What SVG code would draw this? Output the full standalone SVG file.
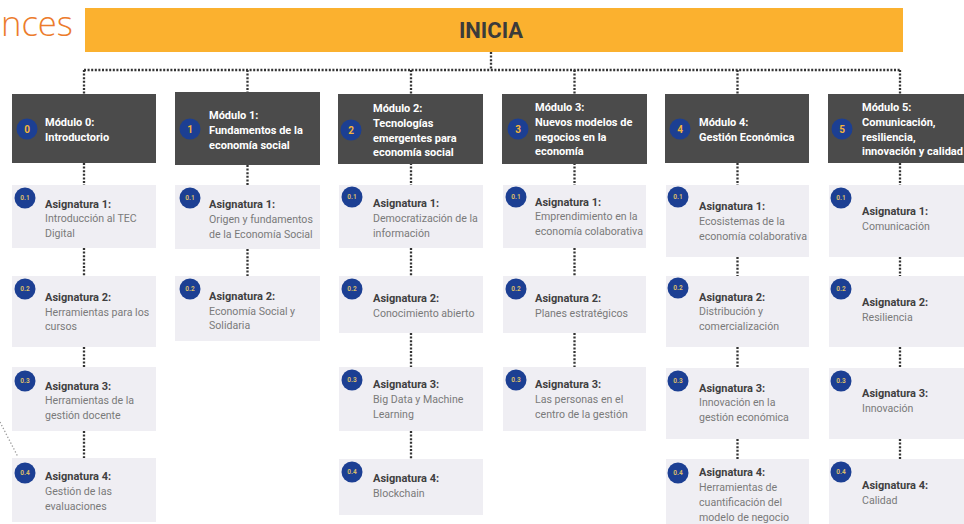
<svg xmlns="http://www.w3.org/2000/svg" width="964" height="524" viewBox="0 0 964 524">
<style>
.bg{fill:#ffffff}
.bar{fill:#fbb12f}
.title{font-family:Roboto,"Liberation Sans",sans-serif;font-weight:700;font-size:22px;fill:#3b3b3b;text-anchor:middle}
.corner{font-family:"Open Sans","Liberation Sans",sans-serif;font-weight:300;font-size:34px;fill:#ec7c2c}
.mod{fill:#4b4b4b}
.mt{font-family:Roboto,"Liberation Sans",sans-serif;font-weight:700;font-size:11px;fill:#ffffff}
.mb{fill:#1c3f93}
.mn{font-family:Roboto,"Liberation Sans",sans-serif;font-weight:700;font-size:10px;fill:#f4b43a;text-anchor:middle}
.card{fill:#efeef3}
.cb{fill:#1c3f93}
.cn{font-family:Roboto,"Liberation Sans",sans-serif;font-weight:700;font-size:6.5px;fill:#d9bd6a;text-anchor:middle}
.ch{font-family:Roboto,"Liberation Sans",sans-serif;font-weight:700;font-size:11px;fill:#3f3f3f}
.cl{font-family:Roboto,"Liberation Sans",sans-serif;font-weight:400;font-size:10.6px;fill:#7a7a7a}
.dot{stroke:#333333;stroke-width:2.3;stroke-dasharray:2 1.6;fill:none}
.dotg{stroke:#9a9a9a;stroke-width:1.3;stroke-dasharray:1.3 2;fill:none}
</style>
<rect class="bg" x="0" y="0" width="964" height="524"/>
<text class="corner" x="1" y="36" textLength="72" lengthAdjust="spacingAndGlyphs">nces</text>
<g id="inicia">
<rect class="bar" x="85" y="8" width="818" height="44"/>
<text class="title" x="491" y="38">INICIA</text>
</g>
<g id="connectors">
<line class="dot" x1="491" y1="52" x2="491" y2="70"/>
<line class="dot" x1="84" y1="70" x2="900" y2="70"/>
<line class="dot" x1="84" y1="70" x2="84" y2="94"/>
<line class="dot" x1="247.5" y1="70" x2="247.5" y2="92"/>
<line class="dot" x1="411" y1="70" x2="411" y2="94"/>
<line class="dot" x1="574.5" y1="70" x2="574.5" y2="94"/>
<line class="dot" x1="737.5" y1="70" x2="737.5" y2="94"/>
<line class="dot" x1="900" y1="70" x2="900" y2="94"/>
<line class="dot" x1="84" y1="163" x2="84" y2="185"/>
<line class="dot" x1="84" y1="248" x2="84" y2="276"/>
<line class="dot" x1="84" y1="347" x2="84" y2="367"/>
<line class="dot" x1="84" y1="431" x2="84" y2="458"/>
<line class="dot" x1="247.5" y1="165" x2="247.5" y2="185"/>
<line class="dot" x1="247.5" y1="249" x2="247.5" y2="276"/>
<line class="dot" x1="411" y1="163" x2="411" y2="185"/>
<line class="dot" x1="411" y1="248" x2="411" y2="276"/>
<line class="dot" x1="411" y1="333" x2="411" y2="367"/>
<line class="dot" x1="411" y1="431" x2="411" y2="459"/>
<line class="dot" x1="574.5" y1="163" x2="574.5" y2="185"/>
<line class="dot" x1="574.5" y1="248" x2="574.5" y2="276"/>
<line class="dot" x1="574.5" y1="333" x2="574.5" y2="367"/>
<line class="dot" x1="737.5" y1="163" x2="737.5" y2="185"/>
<line class="dot" x1="737.5" y1="257" x2="737.5" y2="276"/>
<line class="dot" x1="737.5" y1="347" x2="737.5" y2="368"/>
<line class="dot" x1="737.5" y1="439" x2="737.5" y2="459"/>
<line class="dot" x1="900" y1="163" x2="900" y2="185"/>
<line class="dot" x1="900" y1="257" x2="900" y2="276"/>
<line class="dot" x1="900" y1="347" x2="900" y2="368"/>
<line class="dot" x1="900" y1="439" x2="900" y2="459"/>
<line class="dotg" x1="0" y1="422" x2="18" y2="457"/>
</g>
<g id="m0">
<rect class="mod" x="12" y="94" width="144" height="69"/>
<circle class="mb" cx="27" cy="129" r="10.5"/><text class="mn" x="27" y="132.5">0</text>
<text class="mt" x="45" y="126">Módulo 0:</text>
<text class="mt" x="45" y="141">Introductorio</text>
</g>
<g id="m1">
<rect class="mod" x="175" y="92" width="145" height="73"/>
<circle class="mb" cx="190" cy="129" r="10.5"/><text class="mn" x="190" y="132.5">1</text>
<text class="mt" x="209" y="119">Módulo 1:</text>
<text class="mt" x="209" y="134">Fundamentos de la</text>
<text class="mt" x="209" y="149">economía social</text>
</g>
<g id="m2">
<rect class="mod" x="338" y="94" width="145" height="70"/>
<circle class="mb" cx="351" cy="130" r="10.5"/><text class="mn" x="351" y="133.5">2</text>
<text class="mt" x="373" y="112">Módulo 2:</text>
<text class="mt" x="373" y="127">Tecnologías</text>
<text class="mt" x="373" y="142">emergentes para</text>
<text class="mt" x="373" y="156">economía social</text>
</g>
<g id="m3">
<rect class="mod" x="502" y="94" width="145" height="70"/>
<circle class="mb" cx="518" cy="129" r="10.5"/><text class="mn" x="518" y="132.5">3</text>
<text class="mt" x="535" y="111">Módulo 3:</text>
<text class="mt" x="535" y="126">Nuevos modelos de</text>
<text class="mt" x="535" y="141">negocios en la</text>
<text class="mt" x="535" y="155">economía</text>
</g>
<g id="m4">
<rect class="mod" x="665" y="94" width="144" height="69"/>
<circle class="mb" cx="680" cy="129" r="10.5"/><text class="mn" x="680" y="132.5">4</text>
<text class="mt" x="699" y="126">Módulo 4:</text>
<text class="mt" x="699" y="141">Gestión Económica</text>
</g>
<g id="m5">
<rect class="mod" x="828" y="94" width="140" height="69"/>
<circle class="mb" cx="842" cy="129" r="10.5"/><text class="mn" x="842" y="132.5">5</text>
<text class="mt" x="862" y="111">Módulo 5:</text>
<text class="mt" x="862" y="126">Comunicación,</text>
<text class="mt" x="862" y="141">resiliencia,</text>
<text class="mt" x="862" y="155" textLength="101" lengthAdjust="spacingAndGlyphs">innovación y calidad</text>
</g>
<g id="m0-a1">
<rect class="card" x="12" y="185" width="144" height="63"/>
<circle class="cb" cx="25" cy="198" r="10.5"/><text class="cn" x="25" y="200.3">0.1</text>
<text class="ch" x="45" y="207.5">Asignatura 1:</text>
<text class="cl" x="45" y="221.5">Introducción al TEC</text>
<text class="cl" x="45" y="236.5">Digital</text>
</g>
<g id="m0-a2">
<rect class="card" x="12" y="276" width="144" height="71"/>
<circle class="cb" cx="25" cy="289" r="10.5"/><text class="cn" x="25" y="291.3">0.2</text>
<text class="ch" x="45" y="300.5">Asignatura 2:</text>
<text class="cl" x="45" y="315.5">Herramientas para los</text>
<text class="cl" x="45" y="329.5">cursos</text>
</g>
<g id="m0-a3">
<rect class="card" x="12" y="367" width="144" height="64"/>
<circle class="cb" cx="25" cy="381" r="10.5"/><text class="cn" x="25" y="383.3">0.3</text>
<text class="ch" x="45" y="389.5">Asignatura 3:</text>
<text class="cl" x="45" y="403.5">Herramientas de la</text>
<text class="cl" x="45" y="418.5">gestión docente</text>
</g>
<g id="m0-a4">
<rect class="card" x="12" y="458" width="144" height="64"/>
<circle class="cb" cx="25" cy="473" r="10.5"/><text class="cn" x="25" y="475.3">0.4</text>
<text class="ch" x="45" y="479.5">Asignatura 4:</text>
<text class="cl" x="45" y="494.5">Gestión de las</text>
<text class="cl" x="45" y="509.5">evaluaciones</text>
</g>
<g id="m1-a1">
<rect class="card" x="175" y="185" width="145" height="64"/>
<circle class="cb" cx="190" cy="198" r="10.5"/><text class="cn" x="190" y="200.3">0.1</text>
<text class="ch" x="209" y="207.5">Asignatura 1:</text>
<text class="cl" x="209" y="222.5">Origen y fundamentos</text>
<text class="cl" x="209" y="237.5">de la Economía Social</text>
</g>
<g id="m1-a2">
<rect class="card" x="175" y="276" width="145" height="65"/>
<circle class="cb" cx="190" cy="289" r="10.5"/><text class="cn" x="190" y="291.3">0.2</text>
<text class="ch" x="209" y="299.5">Asignatura 2:</text>
<text class="cl" x="209" y="314.5">Economía Social y</text>
<text class="cl" x="209" y="328.5">Solidaria</text>
</g>
<g id="m2-a1">
<rect class="card" x="339" y="185" width="144" height="63"/>
<circle class="cb" cx="352" cy="197" r="10.5"/><text class="cn" x="352" y="199.3">0.1</text>
<text class="ch" x="373" y="206.5">Asignatura 1:</text>
<text class="cl" x="373" y="221.5">Democratización de la</text>
<text class="cl" x="373" y="236.5">información</text>
</g>
<g id="m2-a2">
<rect class="card" x="339" y="276" width="144" height="57"/>
<circle class="cb" cx="352" cy="289" r="10.5"/><text class="cn" x="352" y="291.3">0.2</text>
<text class="ch" x="373" y="301.5">Asignatura 2:</text>
<text class="cl" x="373" y="316.5">Conocimiento abierto</text>
</g>
<g id="m2-a3">
<rect class="card" x="339" y="367" width="144" height="64"/>
<circle class="cb" cx="352" cy="380" r="10.5"/><text class="cn" x="352" y="382.3">0.3</text>
<text class="ch" x="373" y="387.5">Asignatura 3:</text>
<text class="cl" x="373" y="402.5">Big Data y Machine</text>
<text class="cl" x="373" y="417.5">Learning</text>
</g>
<g id="m2-a4">
<rect class="card" x="339" y="459" width="144" height="56"/>
<circle class="cb" cx="352" cy="472" r="10.5"/><text class="cn" x="352" y="474.3">0.4</text>
<text class="ch" x="373" y="481.5">Asignatura 4:</text>
<text class="cl" x="373" y="496.5">Blockchain</text>
</g>
<g id="m3-a1">
<rect class="card" x="503" y="185" width="143" height="63"/>
<circle class="cb" cx="516" cy="197" r="10.5"/><text class="cn" x="516" y="199.3">0.1</text>
<text class="ch" x="535" y="205.5">Asignatura 1:</text>
<text class="cl" x="535" y="219.5">Emprendimiento en la</text>
<text class="cl" x="535" y="234.5" textLength="108" lengthAdjust="spacingAndGlyphs">economía colaborativa</text>
</g>
<g id="m3-a2">
<rect class="card" x="503" y="276" width="143" height="57"/>
<circle class="cb" cx="516" cy="289" r="10.5"/><text class="cn" x="516" y="291.3">0.2</text>
<text class="ch" x="535" y="301.5">Asignatura 2:</text>
<text class="cl" x="535" y="316.5">Planes estratégicos</text>
</g>
<g id="m3-a3">
<rect class="card" x="503" y="367" width="143" height="64"/>
<circle class="cb" cx="516" cy="380" r="10.5"/><text class="cn" x="516" y="382.3">0.3</text>
<text class="ch" x="535" y="387.5">Asignatura 3:</text>
<text class="cl" x="535" y="402.5">Las personas en el</text>
<text class="cl" x="535" y="417.5">centro de la gestión</text>
</g>
<g id="m4-a1">
<rect class="card" x="666" y="185" width="143" height="72"/>
<circle class="cb" cx="678" cy="197" r="10.5"/><text class="cn" x="678" y="199.3">0.1</text>
<text class="ch" x="699" y="209.5">Asignatura 1:</text>
<text class="cl" x="699" y="224.5">Ecosistemas de la</text>
<text class="cl" x="699" y="239.5" textLength="108" lengthAdjust="spacingAndGlyphs">economía colaborativa</text>
</g>
<g id="m4-a2">
<rect class="card" x="666" y="276" width="143" height="71"/>
<circle class="cb" cx="678" cy="288" r="10.5"/><text class="cn" x="678" y="290.3">0.2</text>
<text class="ch" x="699" y="300.5">Asignatura 2:</text>
<text class="cl" x="699" y="314.5">Distribución y</text>
<text class="cl" x="699" y="329.5">comercialización</text>
</g>
<g id="m4-a3">
<rect class="card" x="666" y="368" width="143" height="71"/>
<circle class="cb" cx="678" cy="381" r="10.5"/><text class="cn" x="678" y="383.3">0.3</text>
<text class="ch" x="699" y="391.5">Asignatura 3:</text>
<text class="cl" x="699" y="405.5">Innovación en la</text>
<text class="cl" x="699" y="420.5">gestión económica</text>
</g>
<g id="m4-a4">
<rect class="card" x="666" y="459" width="143" height="65"/>
<circle class="cb" cx="678" cy="473" r="10.5"/><text class="cn" x="678" y="475.3">0.4</text>
<text class="ch" x="699" y="475.5">Asignatura 4:</text>
<text class="cl" x="699" y="490.5">Herramientas de</text>
<text class="cl" x="699" y="505.5">cuantificación del</text>
<text class="cl" x="699" y="520.5">modelo de negocio</text>
</g>
<g id="m5-a1">
<rect class="card" x="829" y="185" width="140" height="72"/>
<circle class="cb" cx="841" cy="198" r="10.5"/><text class="cn" x="841" y="200.3">0.1</text>
<text class="ch" x="862" y="214.5">Asignatura 1:</text>
<text class="cl" x="862" y="229.5">Comunicación</text>
</g>
<g id="m5-a2">
<rect class="card" x="829" y="276" width="140" height="71"/>
<circle class="cb" cx="841" cy="289" r="10.5"/><text class="cn" x="841" y="291.3">0.2</text>
<text class="ch" x="862" y="305.5">Asignatura 2:</text>
<text class="cl" x="862" y="320.5">Resiliencia</text>
</g>
<g id="m5-a3">
<rect class="card" x="829" y="368" width="140" height="71"/>
<circle class="cb" cx="841" cy="381" r="10.5"/><text class="cn" x="841" y="383.3">0.3</text>
<text class="ch" x="862" y="396.5">Asignatura 3:</text>
<text class="cl" x="862" y="411.5">Innovación</text>
</g>
<g id="m5-a4">
<rect class="card" x="829" y="459" width="140" height="65"/>
<circle class="cb" cx="841" cy="472" r="10.5"/><text class="cn" x="841" y="474.3">0.4</text>
<text class="ch" x="862" y="488.5">Asignatura 4:</text>
<text class="cl" x="862" y="503.5">Calidad</text>
</g>
</svg>
